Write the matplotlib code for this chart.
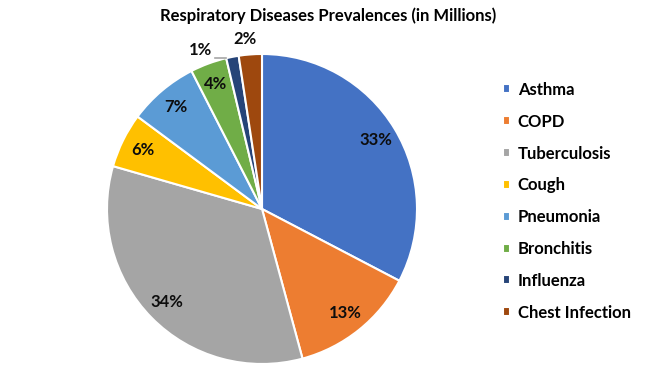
import numpy as np
import matplotlib.pyplot as plt

plt.rcParams['font.family'] = ['Lato', 'DejaVu Sans']

diseases = ['Asthma', 'COPD', 'Tuberculosis', 'Cough', 'Pneumonia',
            'Bronchitis', 'Influenza', 'Chest Infection']
# prevalence values (millions)
values = [32.6, 13.1, 33.6, 5.7, 7.3, 3.8, 1.3, 2.4]
colors = ['#4472C4', '#ED7D31', '#A5A5A5', '#FFC000', '#5B9BD5',
          '#70AD47', '#264478', '#9E480E']

fig = plt.figure(figsize=(6.45, 3.67), dpi=100)
ax = fig.add_axes([0.1659, 0.0082, 0.4806, 0.8447])

wedges, texts, autotexts = ax.pie(
    values, colors=colors, startangle=90, counterclock=False,
    autopct='%1.0f%%', pctdistance=0.86,
    wedgeprops=dict(edgecolor='white', linewidth=1.5),
    textprops=dict(fontsize=12, fontweight='bold', color='#0D0D0D'))
for w in wedges:
    w.set_clip_on(False)
ax.set_xlim(-1, 1)
ax.set_ylim(-1, 1)
ax.set_aspect('equal')

# small slices get their labels outside the pie
for i, shift in [(6, 10), (7, 1.5)]:
    w = wedges[i]
    mid = np.deg2rad((w.theta1 + w.theta2) / 2 + shift)
    autotexts[i].set_position((1.1 * np.cos(mid), 1.1 * np.sin(mid)))
    autotexts[i].set_clip_on(False)
lx, ly = autotexts[6].get_position()
ax.plot([lx + 0.09, lx + 0.16], [ly - 0.055, ly - 0.055],
        color='#A6A6A6', lw=1.2, clip_on=False, zorder=5)

fig.text(0.5085, 0.957, 'Respiratory Diseases Prevalences (in Millions)',
         ha='center', va='center', fontsize=12, fontweight='bold',
         color='#000000')

leg = fig.legend(wedges, diseases, loc='upper left',
                 bbox_to_anchor=(0.769, 0.795), frameon=False,
                 handlelength=0.45, handleheight=0.45, handletextpad=0.45,
                 labelspacing=0.95, borderaxespad=0,
                 prop=dict(size=12, weight='bold'))
for t in leg.get_texts():
    t.set_color('#000000')

fig.savefig('out.png', dpi=100)
